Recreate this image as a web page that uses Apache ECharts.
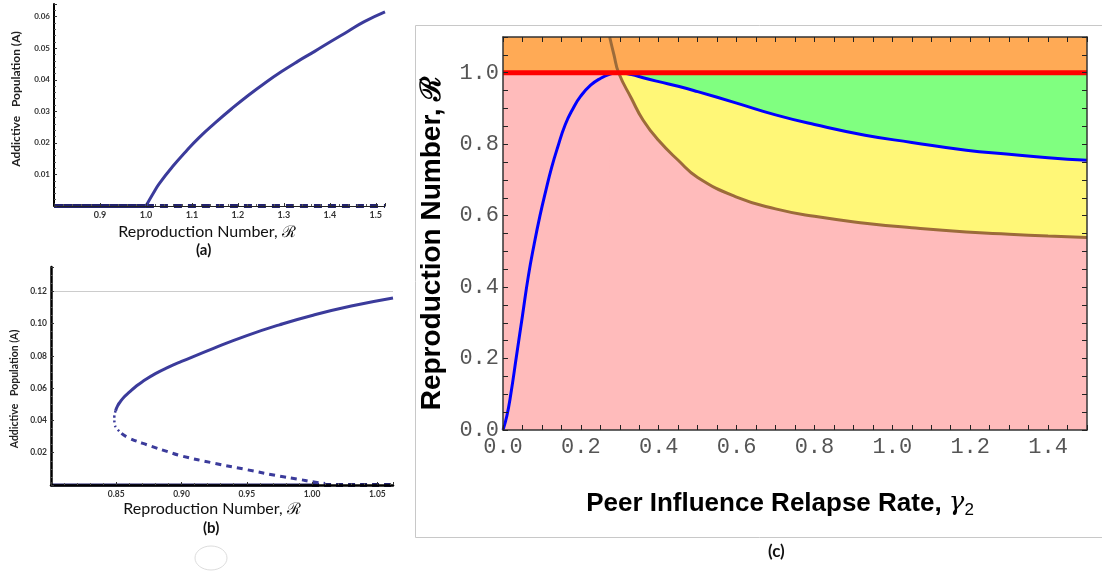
<!DOCTYPE html>
<html>
<head>
<meta charset="utf-8">
<script src="https://cdn.jsdelivr.net/npm/echarts@6/dist/echarts.min.js"></script>
<style>
html, body { margin: 0; background: #fff; }
#chart { width: 1102px; height: 572px; }
</style>
</head>
<body>
<div id="chart"></div>
<script>
// (a) forward bifurcation
const aStableR = [1.0, 1.015, 1.029, 1.058, 1.087, 1.115, 1.151, 1.187, 1.223, 1.259, 1.295, 1.331, 1.367, 1.403, 1.439, 1.475, 1.52];
const aStableA = [0, 0.0038, 0.0071, 0.0125, 0.0173, 0.0216, 0.0264, 0.0309, 0.0351, 0.039, 0.0426, 0.0459, 0.049, 0.0522, 0.0553, 0.0584, 0.0615];
const aZeroStableR = [0.8, 1.0];
const aZeroUnstableR = [1.0, 1.52];

// (b) backward bifurcation
const bUpperR = [0.8495, 0.851, 0.853, 0.856, 0.86, 0.865, 0.87, 0.88, 0.89, 0.90, 0.925, 0.95, 0.975, 1.0, 1.03, 1.062];
const bUpperA = [0.046, 0.049, 0.0515, 0.0545, 0.0575, 0.061, 0.064, 0.069, 0.073, 0.0765, 0.0848, 0.0925, 0.0992, 0.105, 0.1108, 0.1158];
const bTurnR = [0.8495, 0.8485, 0.8487, 0.8505, 0.854];
const bTurnA = [0.046, 0.042, 0.038, 0.035, 0.032];
const bLowerR = [0.854, 0.86, 0.875, 0.89, 0.90, 0.925, 0.95, 0.975, 0.99, 1.0, 1.01];
const bLowerA = [0.032, 0.029, 0.0245, 0.0205, 0.018, 0.0135, 0.0095, 0.0055, 0.0035, 0.002, 0.001];
const bZeroStableR = [0.8, 1.0];
const bZeroUnstableR = [1.0, 1.062];
const bGridLineA = 0.12;

// (c) regions in (gamma2, R) plane
const cBlueG = [0, 0.01, 0.02, 0.035, 0.05, 0.065, 0.08, 0.095, 0.11, 0.125, 0.14, 0.16, 0.18, 0.2, 0.225, 0.25, 0.275,
                0.297, 0.33, 0.36, 0.4, 0.45, 0.5, 0.6, 0.7, 0.8, 0.93, 1.05, 1.19, 1.3, 1.4, 1.5];
const cBlueR = [0, 0.04, 0.1, 0.21, 0.32, 0.43, 0.52, 0.6, 0.67, 0.735, 0.79, 0.855, 0.9, 0.935, 0.965, 0.984, 0.996,
                1.0, 0.995, 0.986, 0.975, 0.962, 0.947, 0.915, 0.882, 0.855, 0.825, 0.805, 0.783, 0.772, 0.762, 0.755];
const cBrownG = [0.274, 0.285, 0.297, 0.33, 0.36, 0.4, 0.45, 0.5, 0.6, 0.7, 0.8, 0.93, 1.05, 1.19, 1.3, 1.4, 1.5];
const cBrownR = [1.10, 1.05, 1.0, 0.928, 0.867, 0.81, 0.755, 0.707, 0.652, 0.619, 0.598, 0.579, 0.566, 0.554, 0.548, 0.543, 0.539];
const cThresholdR = 1.0;
const cCrossG = 0.297;

const zip = (xs, ys) => xs.map((x, i) => [x, ys[i]]);
const onStep = (v, step) => Math.abs(v / step - Math.round(v / step)) < 1e-6;

const navy = '#3b3b9b';
const navyDark = '#23236e';
const small = { fontFamily: 'Lato', fontWeight: 'bold', color: '#333' };
const mono = { fontFamily: 'Liberation Mono, monospace', fontSize: 22, color: '#555' };

const grayEdge = (gridIndex, position) => ({
    gridIndex, position, type: 'value',
    axisLine: { show: true, lineStyle: { color: '#bbb', width: 1 } },
    axisTick: { show: false }, axisLabel: { show: false }, splitLine: { show: false }
});

const frameX = (gridIndex, position) => ({
    gridIndex, position, type: 'value', min: 0, max: 1.5, interval: 0.05, z: 5,
    axisLine: { show: true, onZero: false, lineStyle: { color: '#333', width: 1.5 } },
    axisTick: { show: true, inside: true, length: 5, lineStyle: { color: '#222', width: 1 } },
    axisLabel: { show: false }, splitLine: { show: false }
});
const frameY = (gridIndex, position) => ({
    gridIndex, position, type: 'value', min: 0, max: 1.1, interval: 0.05, z: 5,
    axisLine: { show: true, onZero: false, lineStyle: { color: '#333', width: 1.5 } },
    axisTick: { show: true, inside: true, length: 5, lineStyle: { color: '#222', width: 1 } },
    axisLabel: { show: false }, splitLine: { show: false }
});

const blueAll = zip(cBlueG, cBlueR);
const brownAll = zip(cBrownG, cBrownR);

const option = {
    backgroundColor: '#fff',
    animation: false,
    grid: [
        { left: 54, top: 4, width: 331, height: 202 },
        { left: 51, top: 267, width: 342, height: 218 },
        { left: 503, top: 37, width: 584, height: 393, show: true, backgroundColor: '#FFBBBB', borderWidth: 0 }
    ],
    xAxis: [
        {
            gridIndex: 0, type: 'value', min: 0.8, max: 1.52, interval: 0.1, z: 5,
            axisLine: { onZero: false, lineStyle: { color: '#222', width: 1 } },
            axisTick: { inside: true, length: 3, lineStyle: { color: '#333' } },
            minorTick: { show: true, splitNumber: 5, length: 2, lineStyle: { color: '#555' } },
            axisLabel: Object.assign({ fontSize: 9, margin: 5, formatter: v => (v > 0.85 && v < 1.51) ? v.toFixed(1) : '' }, small),
            splitLine: { show: false },
            name: 'Reproduction Number, ℛ', nameLocation: 'middle', nameGap: 18,
            nameTextStyle: { fontFamily: 'Lato', fontSize: 16, color: '#111', padding: [0, 25, 0, 0] }
        },
        grayEdge(0, 'top'),
        {
            gridIndex: 1, type: 'value', min: 0.8, max: 1.062, interval: 0.05, z: 5,
            axisLine: { onZero: false, lineStyle: { color: '#000', width: 2.5 } },
            axisTick: { inside: true, length: 3, lineStyle: { color: '#333' } },
            minorTick: { show: true, splitNumber: 5, length: 2, lineStyle: { color: '#555' } },
            axisLabel: Object.assign({ fontSize: 8.5, margin: 5, formatter: v => (v > 0.84 && v < 1.055) ? v.toFixed(2) : '' }, small),
            splitLine: { show: false },
            name: 'Reproduction Number, ℛ', nameLocation: 'middle', nameGap: 16,
            nameTextStyle: { fontFamily: 'Lato', fontSize: 16, color: '#111', padding: [0, 20, 0, 0] }
        },
        grayEdge(1, 'top'),
        Object.assign(frameX(2, 'bottom'), {
            axisLabel: Object.assign({ show: true, margin: 6, formatter: v => (onStep(v, 0.2) && v < 1.45) ? v.toFixed(1) : '' }, mono),
            name: 'Peer Influence Relapse Rate, {g|γ}{s|2}', nameLocation: 'middle', nameGap: 58,
            nameTextStyle: {
                fontFamily: 'Liberation Sans, Arial', fontWeight: 'bold', fontSize: 26, color: '#000', padding: [0, 30, 0, 0],
                rich: {
                    g: { fontFamily: 'DejaVu Serif', fontStyle: 'italic', fontWeight: 'normal', fontSize: 26, color: '#000' },
                    s: { fontFamily: 'Liberation Sans', fontWeight: 'normal', fontSize: 17, color: '#000', padding: [14, 0, 0, 0] }
                }
            }
        }),
        frameX(2, 'top')
    ],
    yAxis: [
        {
            gridIndex: 0, type: 'value', min: 0, max: 0.064, interval: 0.01, z: 5,
            axisLine: { show: true, onZero: false, lineStyle: { color: '#000', width: 2 } },
            axisTick: { show: true, inside: true, length: 3, lineStyle: { color: '#333' } },
            minorTick: { show: true, splitNumber: 5, length: 2, lineStyle: { color: '#555' } },
            axisLabel: Object.assign({ fontSize: 8, margin: 4, formatter: v => (v > 0.005 && v < 0.0605) ? v.toFixed(2) : '' }, small),
            splitLine: { show: false },
            name: 'Addictive   Population (A)', nameLocation: 'middle', nameRotate: 90, nameGap: 32,
            nameTextStyle: { fontFamily: 'Lato', fontWeight: 'bold', fontSize: 12, color: '#222', padding: [0, 0, 0, 12] }
        },
        grayEdge(0, 'right'),
        {
            gridIndex: 1, type: 'value', min: 0, max: 0.135, interval: 0.02, z: 5,
            axisLine: { show: true, onZero: false, lineStyle: { color: '#000', width: 2.5 } },
            axisTick: { show: true, inside: true, length: 3, lineStyle: { color: '#333' } },
            minorTick: { show: true, splitNumber: 4, length: 2, lineStyle: { color: '#555' } },
            axisLabel: Object.assign({ fontSize: 8.5, margin: 4, formatter: v => (v > 0.01 && v < 0.125) ? v.toFixed(2) : '' }, small),
            splitLine: { show: false },
            name: 'Addictive   Population (A)', nameLocation: 'middle', nameRotate: 90, nameGap: 31,
            nameTextStyle: { fontFamily: 'Lato', fontWeight: 'bold', fontSize: 10.5, color: '#222', padding: [0, 26, 0, 0] }
        },
        Object.assign(frameY(2, 'left'), {
            axisLabel: Object.assign({ show: true, margin: 4, formatter: v => (onStep(v, 0.2) && v < 1.05) ? v.toFixed(1) : '' }, mono),
            name: 'Reproduction Number, ℛ', nameLocation: 'middle', nameRotate: 90, nameGap: 57,
            nameTextStyle: { fontFamily: 'Liberation Sans, Arial', fontWeight: 'bold', fontSize: 28, color: '#000', padding: [0, 20, 0, 0] }
        }),
        frameY(2, 'right')
    ],
    series: [
        // (a)
        { type: 'line', xAxisIndex: 0, yAxisIndex: 0, data: aZeroStableR.map(r => [r, 0]), symbol: 'none', clip: false,
          lineStyle: { color: navyDark, width: 4 } },
        { type: 'line', xAxisIndex: 0, yAxisIndex: 0, data: aZeroUnstableR.map(r => [r, 0]), symbol: 'none', clip: false,
          lineStyle: { color: navyDark, width: 4, type: [8, 6] } },
        { type: 'line', xAxisIndex: 0, yAxisIndex: 0, data: zip(aStableR, aStableA), symbol: 'none', smooth: 0.5,
          lineStyle: { color: navy, width: 3 } },
        // (b)
        { type: 'line', xAxisIndex: 2, yAxisIndex: 2, data: bZeroStableR.map(r => [r, 0]), symbol: 'none', clip: false,
          lineStyle: { color: navyDark, width: 3 } },
        { type: 'line', xAxisIndex: 2, yAxisIndex: 2, data: bZeroUnstableR.map(r => [r, 0]), symbol: 'none', clip: false,
          lineStyle: { color: navyDark, width: 4, type: [7, 5] } },
        { type: 'line', xAxisIndex: 2, yAxisIndex: 2, data: zip(bUpperR, bUpperA), symbol: 'none', smooth: 0.5,
          lineStyle: { color: navy, width: 3 },
          markLine: { silent: true, symbol: 'none', label: { show: false },
                      lineStyle: { color: '#ccc', width: 1, type: 'solid' }, data: [{ yAxis: bGridLineA }] } },
        { type: 'line', xAxisIndex: 2, yAxisIndex: 2, data: zip(bTurnR, bTurnA), symbol: 'none', smooth: 0.5,
          lineStyle: { color: navy, width: 2.5, type: [2, 3] } },
        { type: 'line', xAxisIndex: 2, yAxisIndex: 2, data: zip(bLowerR, bLowerA), symbol: 'none', smooth: 0.5,
          lineStyle: { color: navy, width: 3, type: [6, 5] } },
        // (c) fills: green up to threshold, yellow under blue, pink under brown, orange above threshold
        { type: 'line', xAxisIndex: 4, yAxisIndex: 4, data: [[cCrossG, cThresholdR], [1.5, cThresholdR]], symbol: 'none',
          lineStyle: { width: 0 }, areaStyle: { color: '#80FF80', opacity: 1, origin: 'start' } },
        { type: 'line', xAxisIndex: 4, yAxisIndex: 4, data: blueAll.filter(p => p[0] >= cCrossG), symbol: 'none', smooth: 0.5,
          lineStyle: { width: 0 }, areaStyle: { color: '#FFF777', opacity: 1, origin: 'start' } },
        { type: 'line', xAxisIndex: 4, yAxisIndex: 4, data: brownAll, symbol: 'none', smooth: 0.5,
          lineStyle: { width: 0 }, areaStyle: { color: '#FFBBBB', opacity: 1, origin: 'start' } },
        { type: 'line', xAxisIndex: 4, yAxisIndex: 4, data: [[0, cThresholdR], [1.5, cThresholdR]], symbol: 'none',
          lineStyle: { width: 0 }, areaStyle: { color: '#FFAA55', opacity: 1, origin: 'end' } },
        // (c) curves
        { type: 'line', xAxisIndex: 4, yAxisIndex: 4, data: brownAll, symbol: 'none', smooth: 0.5,
          lineStyle: { color: '#9C6B3A', width: 3 } },
        { type: 'line', xAxisIndex: 4, yAxisIndex: 4, data: blueAll, symbol: 'none', smooth: 0.5,
          lineStyle: { color: '#0000FF', width: 3 } },
        { type: 'line', xAxisIndex: 4, yAxisIndex: 4, data: [[0, cThresholdR], [1.5, cThresholdR]], symbol: 'none',
          lineStyle: { color: '#FF0000', width: 5 } }
    ],
    graphic: [
        { type: 'rect', silent: true, z: -1, shape: { x: 415.5, y: 25.5, width: 700, height: 512 },
          style: { fill: 'none', stroke: '#c8c8c8', lineWidth: 1 } },
        { type: 'text', left: 196, top: 243, style: { text: '(a)', font: 'bold 15px Lato', fill: '#111' } },
        { type: 'text', left: 203, top: 521, style: { text: '(b)', font: 'bold 15px Lato', fill: '#111' } },
        { type: 'text', left: 768, top: 543, style: { text: '(c)', font: 'bold 17px Lato', fill: '#111' } },
        { type: 'ellipse', silent: true, shape: { cx: 211, cy: 558, rx: 16, ry: 12 },
          style: { fill: 'none', stroke: '#ddd', lineWidth: 1 } }
    ]
};

const myChart = echarts.init(document.getElementById('chart'));
myChart.setOption(option);
</script>
</body>
</html>
